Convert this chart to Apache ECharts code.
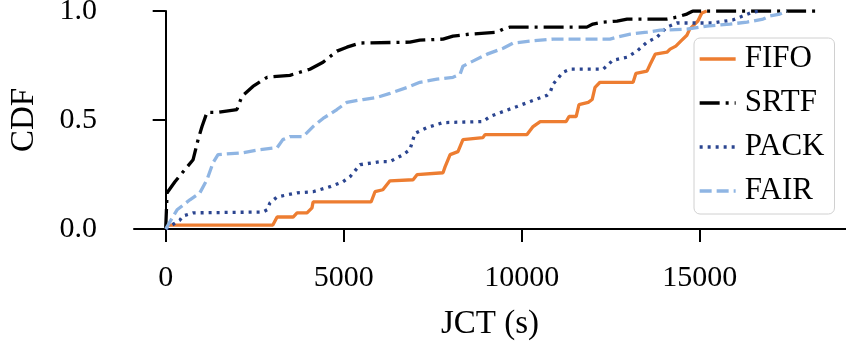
<!DOCTYPE html>
<html>
<head>
<meta charset="utf-8">
<script src="https://cdn.jsdelivr.net/npm/echarts@6/dist/echarts.min.js"></script>
<style>html,body{margin:0;padding:0;background:#fff}#c{width:846px;height:347px}</style>
</head>
<body>
<div id="c"></div>
<script>
const seriesNames = ['FIFO', 'SRTF', 'PACK', 'FAIR'];
const xTicks = [0, 5000, 10000, 15000];
const yTicks = [0, 0.5, 1.0];

const fifoX = [0, 40, 3010, 3130, 3580, 3690, 3970, 4110, 4140, 5770, 5880, 6100, 6300, 6950, 7060, 7790, 7850, 7990, 8210, 8350, 8910, 8970, 10150, 10320, 10520, 11250, 11330, 11530, 11610, 11870, 11980, 12060, 12200, 13130, 13210, 13520, 13610, 13750, 14080, 14170, 14330, 14470, 14640, 14720, 14950, 15060, 15200];
const fifoY = [0, 0.018, 0.018, 0.055, 0.055, 0.074, 0.074, 0.097, 0.124, 0.124, 0.171, 0.180, 0.221, 0.226, 0.249, 0.258, 0.286, 0.341, 0.355, 0.410, 0.419, 0.433, 0.433, 0.470, 0.493, 0.493, 0.516, 0.516, 0.571, 0.581, 0.594, 0.650, 0.673, 0.673, 0.714, 0.724, 0.756, 0.802, 0.811, 0.825, 0.839, 0.862, 0.889, 0.917, 0.954, 0.991, 1.0];

const srtfX = [0, 40, 260, 770, 910, 1020, 1160, 1440, 2000, 2140, 2450, 2850, 3490, 4050, 4420, 4810, 5090, 5460, 6860, 7140, 7790, 8070, 8550, 9310, 9480, 9670, 11830, 12000, 12280, 12680, 12960, 14080, 14360, 14640, 14810, 18380];
const srtfY = [0, 0.166, 0.217, 0.318, 0.41, 0.47, 0.535, 0.535, 0.548, 0.608, 0.654, 0.696, 0.705, 0.733, 0.765, 0.816, 0.834, 0.853, 0.857, 0.866, 0.871, 0.885, 0.894, 0.903, 0.917, 0.926, 0.926, 0.940, 0.949, 0.954, 0.963, 0.963, 0.972, 0.986, 1.0, 1.0];

const packX = [0, 40, 400, 490, 770, 2730, 2850, 2930, 3130, 3690, 4140, 4620, 4980, 5180, 5460, 6020, 6300, 6670, 6860, 7000, 7340, 7790, 8910, 9110, 9480, 9870, 10240, 10710, 10800, 10880, 11160, 11360, 12290, 12560, 12960, 13240, 13520, 13800, 14080, 14360, 15370, 15930, 16210, 16490, 16690];
const packY = [0, 0.009, 0.041, 0.060, 0.074, 0.078, 0.088, 0.120, 0.147, 0.166, 0.171, 0.194, 0.217, 0.240, 0.295, 0.309, 0.309, 0.341, 0.364, 0.438, 0.465, 0.488, 0.493, 0.516, 0.539, 0.562, 0.585, 0.613, 0.627, 0.664, 0.719, 0.733, 0.733, 0.774, 0.788, 0.816, 0.857, 0.880, 0.926, 0.945, 0.945, 0.959, 0.977, 0.995, 1.0];

const fairX = [0, 40, 320, 680, 960, 1160, 1330, 1470, 2170, 2650, 3130, 3290, 3490, 3860, 4140, 4420, 4810, 5090, 5540, 5940, 6300, 6860, 7140, 7620, 8070, 8270, 8350, 8630, 9030, 9480, 9760, 10240, 10880, 12480, 12680, 13050, 13520, 13890, 14640, 15200, 15850, 16330, 16780, 16970, 17250, 17450];
const fairY = [0, 0.009, 0.088, 0.134, 0.166, 0.226, 0.304, 0.341, 0.350, 0.364, 0.373, 0.410, 0.424, 0.424, 0.470, 0.507, 0.548, 0.581, 0.594, 0.604, 0.622, 0.654, 0.673, 0.687, 0.696, 0.710, 0.747, 0.770, 0.802, 0.829, 0.853, 0.862, 0.871, 0.871, 0.880, 0.894, 0.903, 0.912, 0.917, 0.931, 0.940, 0.949, 0.963, 0.977, 0.986, 1.0];

const pairs = (xs, ys) => xs.map((x, i) => [x, ys[i]]);
const FONT = 'Liberation Serif';

const chart = echarts.init(document.getElementById('c'), null, {renderer: 'canvas'});
const mk = (name, xs, ys, color, type) => ({
  name, type: 'line', data: pairs(xs, ys), symbol: 'none', smooth: false,
  lineStyle: {color, width: 3.3, type, cap: 'butt'}, itemStyle: {color},
  animation: false
});

chart.setOption({
  animation: false,
  grid: {left: 134, right: 0, top: 11, bottom: 118, containLabel: false, outerBoundsMode: 'none'},
  xAxis: {
    type: 'value', min: -890, max: 19110,
    name: 'JCT (s)', nameLocation: 'middle', nameGap: 79,
    nameTextStyle: {fontFamily: FONT, fontSize: 33, color: '#000'},
    axisLine: {show: true, lineStyle: {color: '#000', width: 2}},
    axisTick: {show: true, length: 13, lineStyle: {color: '#000', width: 2}, customValues: xTicks},
    axisLabel: {fontFamily: FONT, fontSize: 30, color: '#000', margin: 34, customValues: xTicks, formatter: v => String(v)},
    splitLine: {show: false}
  },
  yAxis: {
    type: 'value', min: 0, max: 1, interval: 0.5,
    name: 'CDF', nameLocation: 'middle', nameGap: 93, nameRotate: 90,
    nameTextStyle: {fontFamily: FONT, fontSize: 33, color: '#000'},
    axisLine: {show: true, lineStyle: {color: '#000', width: 2}},
    axisTick: {show: true, length: 13, lineStyle: {color: '#000', width: 2}},
    axisLabel: {fontFamily: FONT, fontSize: 30, color: '#000', margin: 37, formatter: v => v.toFixed(1)},
    splitLine: {show: false}
  },
  legend: {
    orient: 'vertical', left: 694, top: 38,
    data: seriesNames,
    itemWidth: 36, itemHeight: 14, itemGap: 10,
    padding: [4, 10, 6, 4],
    backgroundColor: 'rgba(255,255,255,0.8)',
    borderColor: '#d0d0d0', borderWidth: 1, borderRadius: 6,
    itemStyle: {opacity: 0},
    lineStyle: {width: 3.3},
    textStyle: {fontFamily: FONT, fontSize: 31, color: '#000', lineHeight: 34, padding: [0, 0, 0, 4]}
  },
  series: [
    mk('FIFO', fifoX, fifoY, '#ED7D31', 'solid'),
    mk('SRTF', srtfX, srtfY, '#000000', [20, 6, 3, 6]),
    mk('PACK', packX, packY, '#2B4590', [3, 5]),
    mk('FAIR', fairX, fairY, '#8FB5E3', [12, 5])
  ]
});
</script>
</body>
</html>
